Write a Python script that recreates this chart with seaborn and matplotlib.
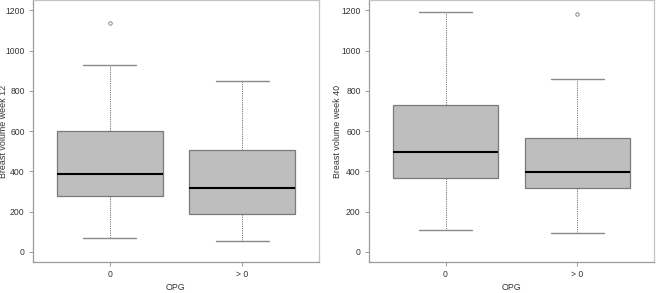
import pandas as pd
import matplotlib.pyplot as plt
import seaborn as sns

groups = ["0", "> 0"]

# five-number summaries: low whisker, Q1, median, Q3, high whisker
week12_low = [70, 53]
week12_q1 = [278, 186]
week12_med = [386, 317]
week12_q3 = [601, 505]
week12_high = [926, 848]
week12_out = [1135, None]

week40_low = [111, 95]
week40_q1 = [368, 315]
week40_med = [494, 395]
week40_q3 = [731, 567]
week40_high = [1190, 860]
week40_out = [None, 1181]


def build_frame(low, q1, med, q3, high, out):
    # 9 observations per group so that the 25/50/75 % points land on q1/med/q3
    rows = []
    for g, a, b, c, d, e, o in zip(groups, low, q1, med, q3, high, out):
        vals = [a, b, b, c, c, d, d, e, o if o is not None else e]
        rows += [(g, v) for v in vals]
    return pd.DataFrame(rows, columns=["OPG", "vol"])


panels = [
    ("Breast volume week 12",
     build_frame(week12_low, week12_q1, week12_med, week12_q3, week12_high, week12_out)),
    ("Breast volume week 40",
     build_frame(week40_low, week40_q1, week40_med, week40_q3, week40_high, week40_out)),
]

sns.set_style("white")
plt.rcParams['font.family'] = ['Liberation Sans', 'DejaVu Sans']

fig = plt.figure(figsize=(6.56, 2.93), dpi=100)
axes = [fig.add_axes([33 / 656, 31 / 293, 286 / 656, 262 / 293]),
        fig.add_axes([369 / 656, 31 / 293, 285 / 656, 262 / 293])]
label_x = [-0.086, -0.095]

for ax, lx, (label, df) in zip(axes, label_x, panels):
    sns.boxplot(data=df, x="OPG", y="vol", order=groups, ax=ax,
                color="#bebebe", saturation=1, width=0.8, whis=1.5,
                linecolor="#7a7a7a", linewidth=0.9, fill=True,
                capwidths=0.4,
                medianprops=dict(color="black", linewidth=1.5),
                whiskerprops=dict(color="#6a6a6a", linewidth=0.6, linestyle=(0, (1.5, 1.2))),
                capprops=dict(color="#8a8a8a", linewidth=1.0),
                flierprops=dict(marker="o", markersize=2.5, markerfacecolor="none",
                                markeredgecolor="#777777", markeredgewidth=0.6))
    ax.set_xlim(-0.58, 1.58)
    ax.set_ylim(-50, 1251)
    ax.set_yticks([0, 200, 400, 600, 800, 1000, 1200])
    ax.set_ylabel(label, fontsize=6.4, color="#333333")
    ax.yaxis.set_label_coords(lx, 0.5)
    ax.set_xlabel("OPG", fontsize=6.4, color="#333333", labelpad=3)
    ax.tick_params(axis="both", labelsize=6.2, colors="#333333", length=3,
                   width=0.6, pad=3, direction="out", left=True, bottom=True)
    ax.tick_params(axis="both", color="#888888")
    for side, sp in ax.spines.items():
        sp.set_visible(True)
        sp.set_linewidth(0.9)
        sp.set_color("#9a9a9a" if side in ("left", "bottom") else "#c4c4c4")

fig.savefig("out.png", dpi=100)
